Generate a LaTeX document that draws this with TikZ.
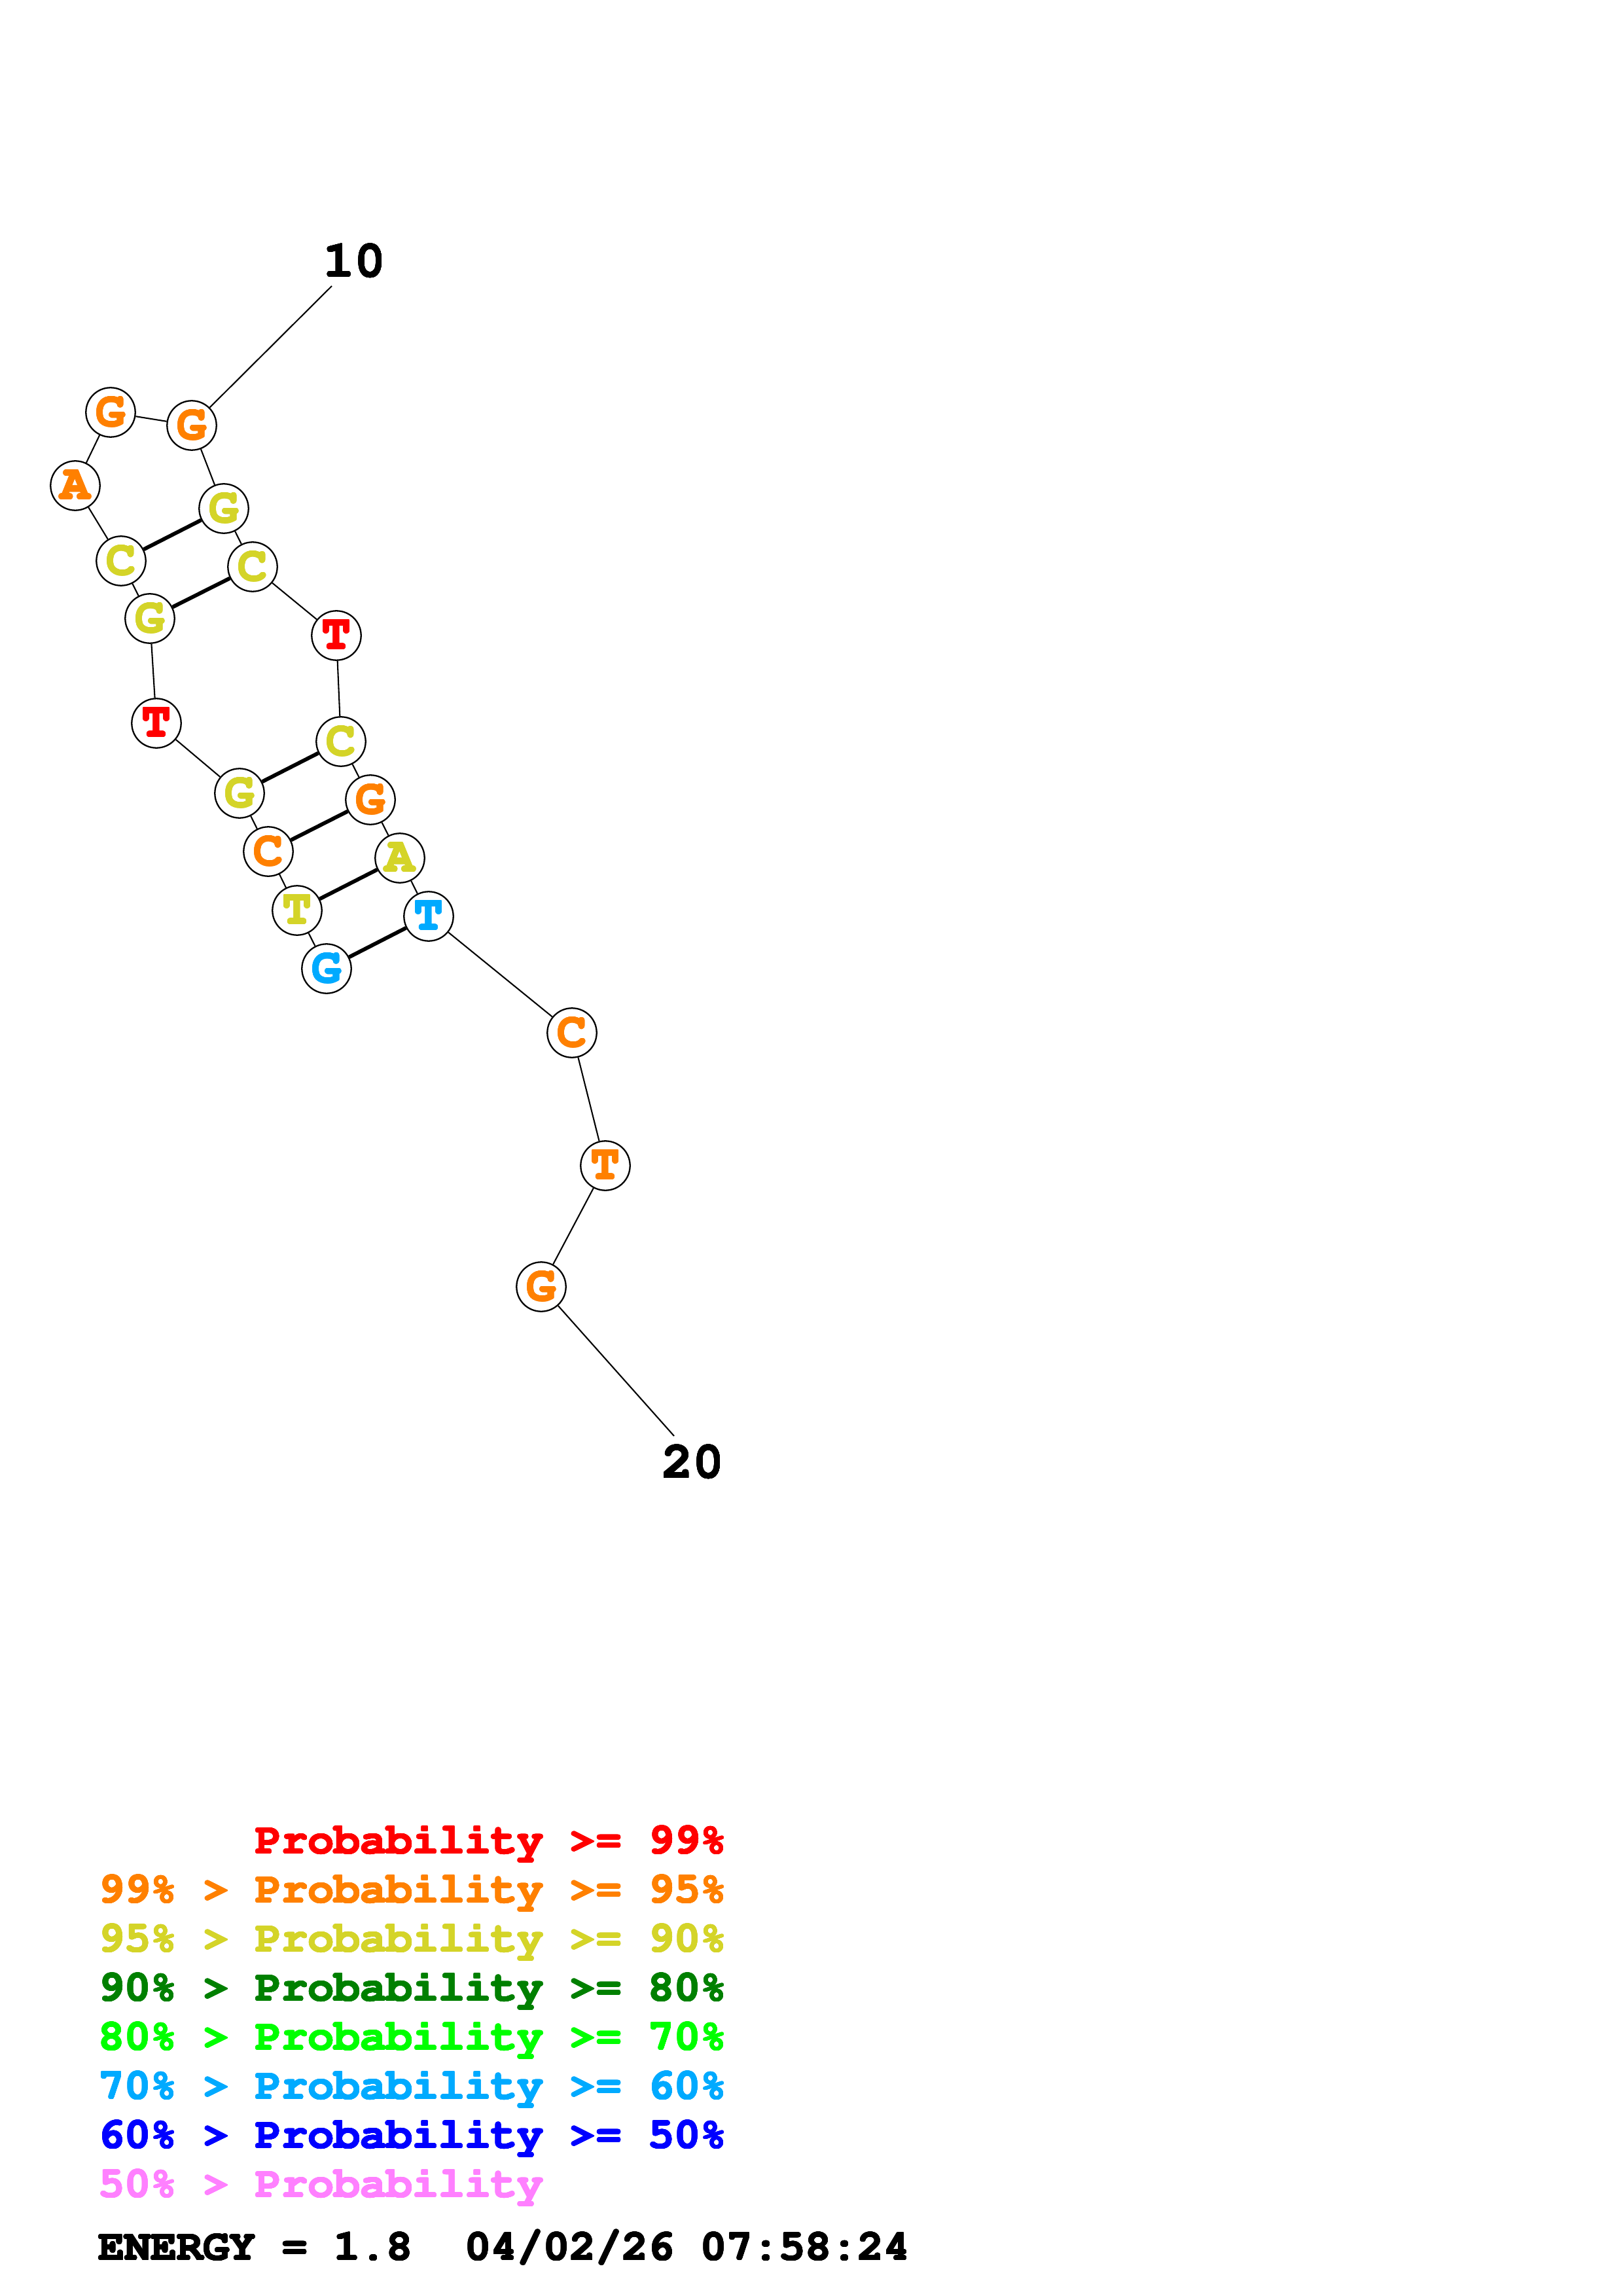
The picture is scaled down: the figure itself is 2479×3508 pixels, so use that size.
\documentclass[tikz,border=0pt]{standalone}
\usepackage[T1]{fontenc}
\usepackage{courier}
\usepackage{contour}
\contourlength{0.22pt}
\contournumber{16}
\definecolor{pred}{RGB}{255,0,0}
\definecolor{porange}{RGB}{255,128,0}
\definecolor{pyellow}{RGB}{212,212,40}
\definecolor{pdkgreen}{RGB}{0,128,0}
\definecolor{pgreen}{RGB}{0,255,0}
\definecolor{pltblue}{RGB}{0,170,255}
\definecolor{pblue}{RGB}{0,0,255}
\definecolor{ppink}{RGB}{255,128,255}
\definecolor{pblack}{RGB}{0,0,0}
\newcommand{\hv}[2]{\contour{#1}{\textcolor{#1}{#2}}}
\begin{document}
\begin{tikzpicture}[x=0.24pt,y=-0.24pt,
  nt/.style={circle,draw,line width=0.55pt,minimum size=18.1pt,inner sep=0pt,fill=white,
    font=\ttfamily\bfseries\fontsize{18}{18}\selectfont},
  bb/.style={line width=0.5pt},
  bp/.style={line width=1.4pt},
  numlab/.style={anchor=base,inner sep=0pt,font=\ttfamily\bfseries\fontsize{19}{19}\selectfont},
  leg/.style={anchor=base west,inner sep=0pt,font=\ttfamily\bfseries\fontsize{16}{16}\selectfont}]
\path[use as bounding box,fill=white] (0,0) rectangle (2479,3508);
% nucleotides
\node[nt]  (n1)  at (499,1480) {\hv{pltblue}{G}};
\node[nt]  (n2)  at (454,1391) {\hv{pyellow}{T}};
\node[nt]  (n3)  at (410,1301) {\hv{porange}{C}};
\node[nt]  (n4)  at (366,1212) {\hv{pyellow}{G}};
\node[nt]  (n5)  at (239,1105) {\hv{pred}{T}};
\node[nt]  (n6)  at (229,945)  {\hv{pyellow}{G}};
\node[nt]  (n7)  at (185,857)  {\hv{pyellow}{C}};
\node[nt]  (n8)  at (115,742)  {\hv{porange}{A}};
\node[nt]  (n9)  at (169,630)  {\hv{porange}{G}};
\node[nt]  (n10) at (293,650)  {\hv{porange}{G}};
\node[nt]  (n11) at (342,777)  {\hv{pyellow}{G}};
\node[nt]  (n12) at (386,866)  {\hv{pyellow}{C}};
\node[nt]  (n13) at (514,971)  {\hv{pred}{T}};
\node[nt]  (n14) at (521,1133) {\hv{pyellow}{C}};
\node[nt]  (n15) at (566,1222) {\hv{porange}{G}};
\node[nt]  (n16) at (611,1311) {\hv{pyellow}{A}};
\node[nt]  (n17) at (655,1400) {\hv{pltblue}{T}};
\node[nt]  (n18) at (874,1578) {\hv{porange}{C}};
\node[nt]  (n19) at (925,1781) {\hv{porange}{T}};
\node[nt]  (n20) at (827,1966) {\hv{porange}{G}};
% backbone
\draw[bb] (n1)--(n2) (n2)--(n3) (n3)--(n4) (n4)--(n5) (n5)--(n6) (n6)--(n7) (n7)--(n8)
  (n8)--(n9) (n9)--(n10) (n10)--(n11) (n11)--(n12) (n12)--(n13) (n13)--(n14) (n14)--(n15)
  (n15)--(n16) (n16)--(n17) (n17)--(n18) (n18)--(n19) (n19)--(n20);
% base pairs
\draw[bp] (n1)--(n17) (n2)--(n16) (n3)--(n15) (n4)--(n14) (n6)--(n12) (n7)--(n11);
% number ticks
\coordinate (t10) at (507,437);
\coordinate (t20) at (1030,2194);
\draw[bb] (n10)--(t10);
\draw[bb] (n20)--(t20);
\node[numlab] (l10) at (542,423) {\hv{pblack}{10}};
\node[numlab] (l20) at (1059,2258) {\hv{pblack}{20}};
% legend
\node[leg] (g1) at (150,2832) {\phantom{99\% > }\hv{pred}{Probability >= 99\%}};
\node[leg] (g2) at (150,2907) {\hv{porange}{99\% > Probability >= 95\%}};
\node[leg] (g3) at (150,2982) {\hv{pyellow}{95\% > Probability >= 90\%}};
\node[leg] (g4) at (150,3057) {\hv{pdkgreen}{90\% > Probability >= 80\%}};
\node[leg] (g5) at (150,3132) {\hv{pgreen}{80\% > Probability >= 70\%}};
\node[leg] (g6) at (150,3207) {\hv{pltblue}{70\% > Probability >= 60\%}};
\node[leg] (g7) at (150,3282) {\hv{pblue}{60\% > Probability >= 50\%}};
\node[leg] (g8) at (150,3357) {\hv{ppink}{50\% > Probability}};
\node[leg] (en) at (150,3453) {\hv{pblack}{ENERGY = 1.8\ \ 04/02/26 07:58:24}};
\end{tikzpicture}
\end{document}
